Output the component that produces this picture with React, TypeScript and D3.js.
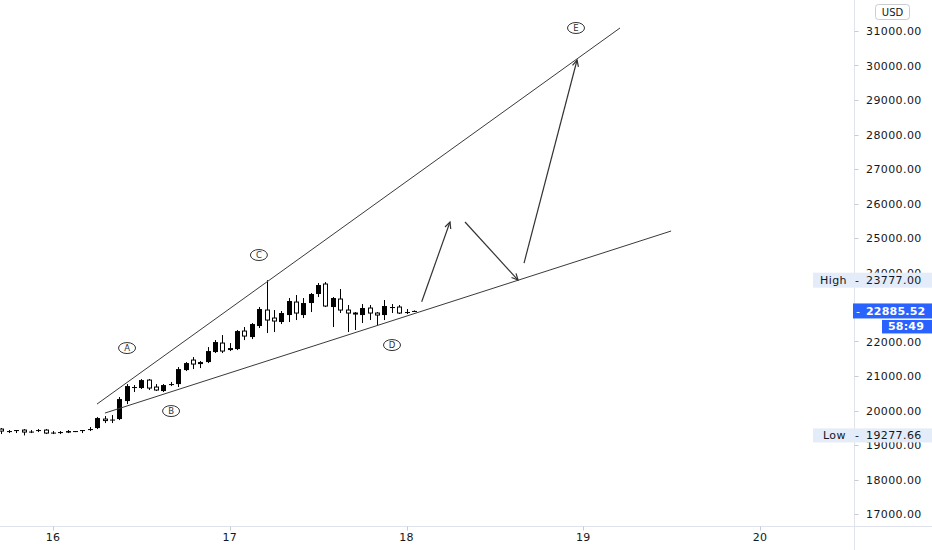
import React from 'react';
import * as d3 from 'd3';

const W = 932;
const H = 550;

// axis ticks
const dayTicks = [16, 17, 18, 19, 20];
// 23000 is hidden behind the last-price label
const priceTicks = [17000, 18000, 19000, 20000, 21000, 22000, 24000, 25000, 26000, 27000, 28000, 29000, 30000, 31000];

// hourly candles, the first one opens on day 15 at 17:00
const firstDay = 15;
const firstHour = 17;
const opens = [19462, 19389, 19418, 19433, 19375, 19404, 19433, 19346, 19360, 19360, 19389, 19404, 19447, 19491, 19752, 19723, 19752, 20274, 20651, 20651, 20882, 20680, 20564, 20737, 20766, 21172, 21462, 21346, 21404, 21694, 21955, 21752, 21781, 22303, 22129, 22448, 22912, 22680, 22564, 22767, 23144, 22767, 23115, 23376, 23666, 22999, 23231, 22912, 22825, 22767, 22970, 22825, 22767, 22970, 22999, 22839, 22870];
const highs = [19491, 19433, 19433, 19462, 19433, 19462, 19462, 19404, 19404, 19433, 19404, 19433, 19520, 19810, 19839, 19868, 20390, 20766, 20737, 20911, 20911, 20766, 20766, 20825, 21259, 21404, 21549, 21433, 21839, 22042, 22187, 21955, 22332, 22419, 22535, 22999, 23777, 22912, 22883, 23260, 23347, 23260, 23405, 23695, 23724, 23289, 23521, 23057, 22854, 23086, 23057, 22854, 23202, 23086, 23057, 22941, 22900];
const lows = [19317, 19346, 19346, 19278, 19346, 19375, 19317, 19317, 19317, 19346, 19375, 19346, 19404, 19462, 19636, 19636, 19723, 20187, 20535, 20622, 20593, 20564, 20535, 20708, 20680, 21143, 21201, 21230, 21375, 21665, 21665, 21723, 21752, 22042, 22071, 22390, 22245, 22274, 22506, 22564, 22622, 22680, 22854, 23289, 22999, 22419, 22825, 22274, 22332, 22535, 22622, 22477, 22622, 22825, 22796, 22796, 22860];
const closes = [19404, 19404, 19433, 19375, 19389, 19433, 19346, 19360, 19375, 19404, 19404, 19433, 19462, 19781, 19708, 19737, 20332, 20708, 20680, 20882, 20651, 20593, 20737, 20766, 21201, 21375, 21346, 21404, 21723, 21984, 21723, 21810, 22303, 22158, 22506, 22941, 22622, 22593, 22825, 23173, 22825, 23115, 23376, 23637, 23028, 23260, 22912, 22825, 22796, 22970, 22825, 22767, 23028, 22999, 22825, 22854, 22885.52];

// drawings: [day, price]
const upperTrend = [[16.249, 20187], [19.208, 31087]];
const lowerTrend = [[16.294, 19926], [19.497, 25202]];
const arrowPaths = [
  [[18.086, 23152], [18.246, 25463]],
  [[18.331, 25463], [18.631, 23781]],
  [[18.665, 24274], [18.965, 30159]],
];
const waveNames = ['A', 'B', 'C', 'D', 'E'];
const waveDays = [16.419, 16.668, 17.165, 17.918, 18.959];
const wavePrices = [21810, 19984, 24506, 21897, 31087];

const highValue = 23777.0;
const lowValue = 19277.66;
const lastValue = 22885.52;
const countdown = '58:49';
const currency = 'USD';

const FONT = 'DejaVu Sans, sans-serif';

export default function App() {
  const x = d3.scaleLinear().domain([16, 20]).range([53, 760]);
  const y = d3.scaleLinear().domain([17000, 31000]).range([514, 31]);
  const axisX = 854.5;
  const axisY = 526.5;
  const bodyW = 5;

  const candles = opens.map((o, i) => {
    const t = firstDay + (firstHour + i) / 24;
    return { t, o, h: highs[i], l: lows[i], c: closes[i] };
  });

  const line = (p: number[][]) => ({ x1: x(p[0][0]), y1: y(p[0][1]), x2: x(p[1][0]), y2: y(p[1][1]) });

  const fmt = d3.format('.2f');

  return (
    <svg width={W} height={H} style={{ position: 'absolute', left: 0, top: 0, background: '#fff' }} fontFamily={FONT}>
      <rect x={0} y={0} width={W} height={H} fill="#fff" />
      {/* candles */}
      <g>
        {candles.map((d, i) => {
          const cx = Math.round(x(d.t)) + 0.5;
          const up = d.c >= d.o;
          const top = Math.min(y(d.o), y(d.c));
          const bh = Math.max(1, Math.abs(y(d.o) - y(d.c)));
          return (
            <g key={i}>
              <line x1={cx} x2={cx} y1={y(d.h)} y2={y(d.l)} stroke="#000" strokeWidth={1} />
              {up ? (
                <rect x={cx - bodyW / 2} y={top} width={bodyW} height={bh} fill="#000" />
              ) : (
                <rect x={cx - bodyW / 2 + 0.5} y={top} width={bodyW - 1} height={bh} fill="#fff" stroke="#000" strokeWidth={1} />
              )}
            </g>
          );
        })}
      </g>
      {/* trend lines */}
      <line {...line(upperTrend)} stroke="#3a3a3a" strokeWidth={1} />
      <line {...line(lowerTrend)} stroke="#3a3a3a" strokeWidth={1} />
      {/* arrows */}
      {arrowPaths.map((p, i) => {
        const l = line(p);
        const ang = Math.atan2(l.y2 - l.y1, l.x2 - l.x1);
        const len = 7;
        const a1 = ang + Math.PI - 0.45;
        const a2 = ang + Math.PI + 0.45;
        return (
          <g key={i} stroke="#333" strokeWidth={1.2} fill="none">
            <line {...l} />
            <polyline
              points={`${l.x2 + len * Math.cos(a1)},${l.y2 + len * Math.sin(a1)} ${l.x2},${l.y2} ${l.x2 + len * Math.cos(a2)},${l.y2 + len * Math.sin(a2)}`}
            />
          </g>
        );
      })}
      {/* wave labels */}
      {waveNames.map((n, i) => (
        <g key={n} transform={`translate(${x(waveDays[i])},${y(wavePrices[i])})`}>
          <ellipse rx={8.5} ry={5.5} fill="#fff" stroke="#333" strokeWidth={1} />
          <text y={3.2} textAnchor="middle" fontSize={8.5} fill="#333" fontFamily={FONT}>{n}</text>
        </g>
      ))}

      {/* axes lines */}
      <line x1={0} x2={W} y1={axisY} y2={axisY} stroke="#e0e3eb" />
      <line x1={axisX} x2={axisX} y1={0} y2={H} stroke="#e0e3eb" />

      {/* bottom ticks */}
      {dayTicks.map((d) => (
        <g key={d}>
          <line x1={Math.round(x(d)) + 0.5} x2={Math.round(x(d)) + 0.5} y1={axisY} y2={axisY + 4} stroke="#c8cbd2" />
          <text x={x(d)} y={541} textAnchor="middle" fontSize={11} fill="#131722" letterSpacing={0.3}>{d}</text>
        </g>
      ))}

      {/* price ticks */}
      {priceTicks.map((p) => (
        <g key={p}>
          <line x1={axisX} x2={axisX + 4} y1={Math.round(y(p)) + 0.5} y2={Math.round(y(p)) + 0.5} stroke="#c8cbd2" />
          <text x={866} y={y(p) + 4} fontSize={11} fill="#131722" letterSpacing={0.4}>{fmt(p)}</text>
        </g>
      ))}

      {/* currency box */}
      <rect x={875.5} y={4.5} width={34} height={15} rx={3} fill="#fff" stroke="#c9ccd3" />
      <text x={892.5} y={15.5} textAnchor="middle" fontSize={10} fill="#131722">{currency}</text>

      {/* high label */}
      <g transform={`translate(0,${y(highValue)})`}>
        <rect x={813} y={-7.5} width={W - 813} height={15} fill="#e3ecf8" />
        <text x={820} y={4} fontSize={11} fill="#131722" letterSpacing={0.4}>High</text>
        <text x={855} y={4} fontSize={11} fill="#131722">-</text>
        <text x={866} y={4} fontSize={11} fill="#131722" letterSpacing={0.4}>{fmt(highValue)}</text>
      </g>
      {/* low label */}
      <g transform={`translate(0,${y(lowValue)})`}>
        <rect x={813} y={-7} width={W - 813} height={14} fill="#e3ecf8" />
        <text x={823} y={4} fontSize={11} fill="#131722" letterSpacing={0.4}>Low</text>
        <text x={855} y={4} fontSize={11} fill="#131722">-</text>
        <text x={866} y={4} fontSize={11} fill="#131722" letterSpacing={0.4}>{fmt(lowValue)}</text>
      </g>
      {/* last price */}
      <g transform={`translate(0,${y(lastValue)})`}>
        <rect x={853} y={-7.5} width={W - 853} height={15} fill="#2962ff" />
        <text x={856} y={4} fontSize={11} fill="#fff">-</text>
        <text x={866} y={4} fontSize={11} fill="#fff" fontWeight="bold" letterSpacing={0.2}>{fmt(lastValue)}</text>
        <rect x={882} y={9} width={W - 882} height={13.5} fill="#2962ff" />
        <text x={888} y={19.5} fontSize={11} fill="#fff" fontWeight="bold" letterSpacing={0.2}>{countdown}</text>
      </g>
    </svg>
  );
}
